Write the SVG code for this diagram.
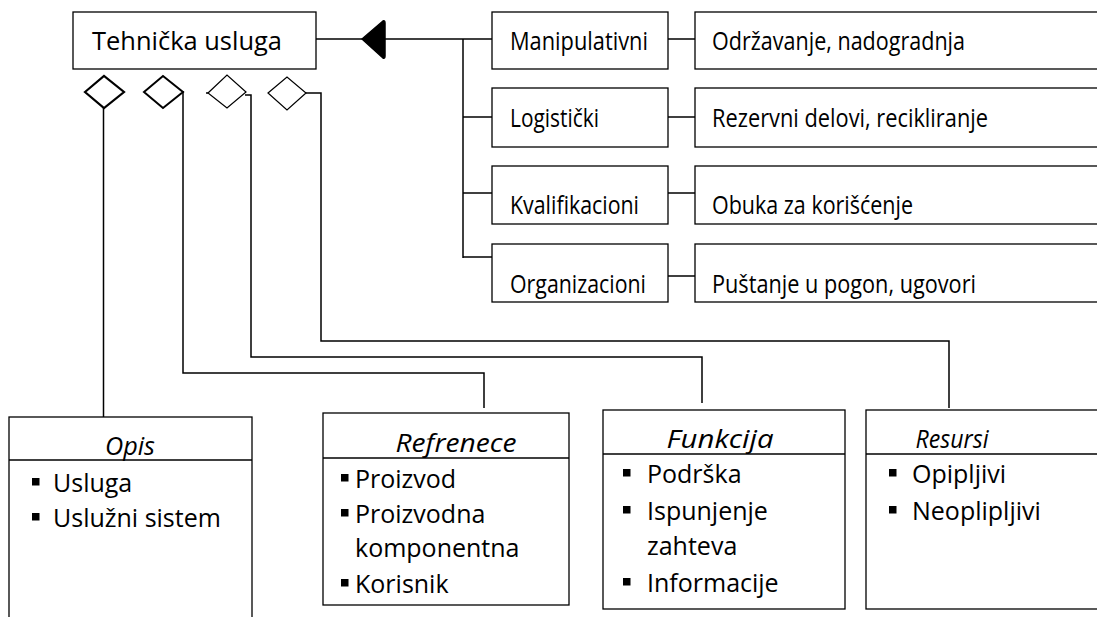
<svg xmlns="http://www.w3.org/2000/svg" width="1097" height="617" viewBox="0 0 1097 617">
  <style>
    .box { fill: #ffffff; stroke: #000000; stroke-width: 1.3; }
    .ln { fill: none; stroke: #000000; stroke-width: 1.5; }
    .dia { fill: #ffffff; stroke: #000000; }
    .t { font-family: "Open Sans", "Liberation Sans", sans-serif; font-size: 25px; fill: #000000; }
    .h { font-style: italic; text-anchor: middle; }
    .bul { fill: #000000; }
  </style>
  <defs>
    <rect id="bullet" class="bul" x="0" y="-14" width="7.5" height="7.5"/>
  </defs>

  <!-- connectors -->
  <g id="connectors">
    <!-- generalization: bus to the root class -->
    <line class="ln" x1="316" y1="39" x2="362" y2="39"/>
    <line class="ln" x1="384" y1="39" x2="492" y2="39"/>
    <path d="M362,39 L383,21 Q385,20 385,23 L385,56 Q385,59 383,58 Z" fill="#000000" stroke="#000000" stroke-width="1.5" stroke-linejoin="round"/>
    <line class="ln" x1="463" y1="39" x2="463" y2="258"/>
    <line class="ln" x1="463" y1="117" x2="492" y2="117"/>
    <line class="ln" x1="463" y1="193" x2="492" y2="193"/>
    <line class="ln" x1="463" y1="257" x2="492" y2="257"/>
    <!-- type to example -->
    <line class="ln" x1="668" y1="39" x2="695" y2="39"/>
    <line class="ln" x1="668" y1="117" x2="695" y2="117"/>
    <line class="ln" x1="668" y1="193" x2="695" y2="193"/>
    <line class="ln" x1="668" y1="276" x2="695" y2="276"/>
    <!-- aggregation diamonds -->
    <polygon class="dia" stroke-width="2.2" points="85,92 104,76 124,92 104,108"/>
    <polygon class="dia" stroke-width="2" points="144,92 163,76 183,92 163,108"/>
    <polygon class="dia" stroke-width="1.2" points="208,93 227,75 246,92 227,108"/>
    <polygon class="dia" stroke-width="1.2" points="268,93 287,77 306,93 287,110"/>
    <!-- aggregation lines -->
    <polyline class="ln" points="103.5,108 103.5,417"/>
    <polyline class="ln" points="183,91 183,373 484,373 484,408"/>
    <polyline class="ln" points="206,93 208,93"/>
    <polyline class="ln" points="245,95 251,95 251,357 702,357 702,403"/>
    <polyline class="ln" points="306,93 321,93 321,341 949,341 949,408"/>
  </g>

  <!-- root class -->
  <g id="tehnicka-usluga">
    <rect class="box" x="73" y="12" width="243" height="57"/>
    <text class="t" x="92" y="50" font-size="26" textLength="190" lengthAdjust="spacingAndGlyphs">Tehnička usluga</text>
  </g>

  <!-- service types -->
  <g id="manipulativni">
    <rect class="box" x="492" y="12" width="176" height="57"/>
    <text class="t" x="510" y="50" textLength="138" lengthAdjust="spacingAndGlyphs">Manipulativni</text>
  </g>
  <g id="logisticki">
    <rect class="box" x="492" y="88" width="176" height="59"/>
    <text class="t" x="510" y="127" textLength="89" lengthAdjust="spacingAndGlyphs">Logistički</text>
  </g>
  <g id="kvalifikacioni">
    <rect class="box" x="492" y="166" width="176" height="58"/>
    <text class="t" x="510" y="214" textLength="129" lengthAdjust="spacingAndGlyphs">Kvalifikacioni</text>
  </g>
  <g id="organizacioni">
    <rect class="box" x="492" y="244" width="176" height="58"/>
    <text class="t" x="510" y="293" textLength="136" lengthAdjust="spacingAndGlyphs">Organizacioni</text>
  </g>

  <!-- examples -->
  <g id="odrzavanje">
    <rect class="box" x="695" y="12" width="420" height="57"/>
    <text class="t" x="712" y="50" textLength="253" lengthAdjust="spacingAndGlyphs">Održavanje, nadogradnja</text>
  </g>
  <g id="rezervni-delovi">
    <rect class="box" x="695" y="88" width="420" height="59"/>
    <text class="t" x="712" y="127" textLength="276" lengthAdjust="spacingAndGlyphs">Rezervni delovi, recikliranje</text>
  </g>
  <g id="obuka">
    <rect class="box" x="695" y="166" width="420" height="58"/>
    <text class="t" x="712" y="214" textLength="201" lengthAdjust="spacingAndGlyphs">Obuka za korišćenje</text>
  </g>
  <g id="pustanje">
    <rect class="box" x="695" y="244" width="420" height="58"/>
    <text class="t" x="712" y="293" textLength="264" lengthAdjust="spacingAndGlyphs">Puštanje u pogon, ugovori</text>
  </g>

  <!-- attribute classes -->
  <g id="opis">
    <rect class="box" x="9" y="417" width="243" height="230"/>
    <line class="ln" x1="9" y1="460" x2="252" y2="460"/>
    <text class="t h" x="130" y="455" textLength="50" lengthAdjust="spacingAndGlyphs">Opis</text>
    <use href="#bullet" x="32" y="492"/>
    <text class="t" x="53" y="492">Usluga</text>
    <use href="#bullet" x="32" y="527"/>
    <text class="t" x="53" y="527">Uslužni sistem</text>
  </g>
  <g id="refrenece">
    <rect class="box" x="323" y="413" width="246" height="192"/>
    <line class="ln" x1="323" y1="458" x2="569" y2="458"/>
    <text class="t h" x="456" y="452" textLength="121" lengthAdjust="spacingAndGlyphs">Refrenece</text>
    <use href="#bullet" x="341" y="488"/>
    <text class="t" x="355" y="488">Proizvod</text>
    <use href="#bullet" x="341" y="523"/>
    <text class="t" x="355" y="523">Proizvodna</text>
    <text class="t" x="355" y="557">komponentna</text>
    <use href="#bullet" x="341" y="593"/>
    <text class="t" x="355" y="593">Korisnik</text>
  </g>
  <g id="funkcija">
    <rect class="box" x="603" y="410" width="242" height="199"/>
    <line class="ln" x1="603" y1="454" x2="845" y2="454"/>
    <text class="t h" x="720" y="448" textLength="107" lengthAdjust="spacingAndGlyphs">Funkcija</text>
    <use href="#bullet" x="623" y="483"/>
    <text class="t" x="647" y="483">Podrška</text>
    <use href="#bullet" x="623" y="520"/>
    <text class="t" x="647" y="520">Ispunjenje</text>
    <text class="t" x="647" y="555">zahteva</text>
    <use href="#bullet" x="623" y="592"/>
    <text class="t" x="647" y="592">Informacije</text>
  </g>
  <g id="resursi">
    <rect class="box" x="866" y="410" width="260" height="199"/>
    <line class="ln" x1="866" y1="454" x2="1126" y2="454"/>
    <text class="t h" x="952" y="448" textLength="73" lengthAdjust="spacingAndGlyphs">Resursi</text>
    <use href="#bullet" x="889" y="483"/>
    <text class="t" x="912" y="483">Opipljivi</text>
    <use href="#bullet" x="889" y="520"/>
    <text class="t" x="912" y="520">Neoplipljivi</text>
  </g>
</svg>
